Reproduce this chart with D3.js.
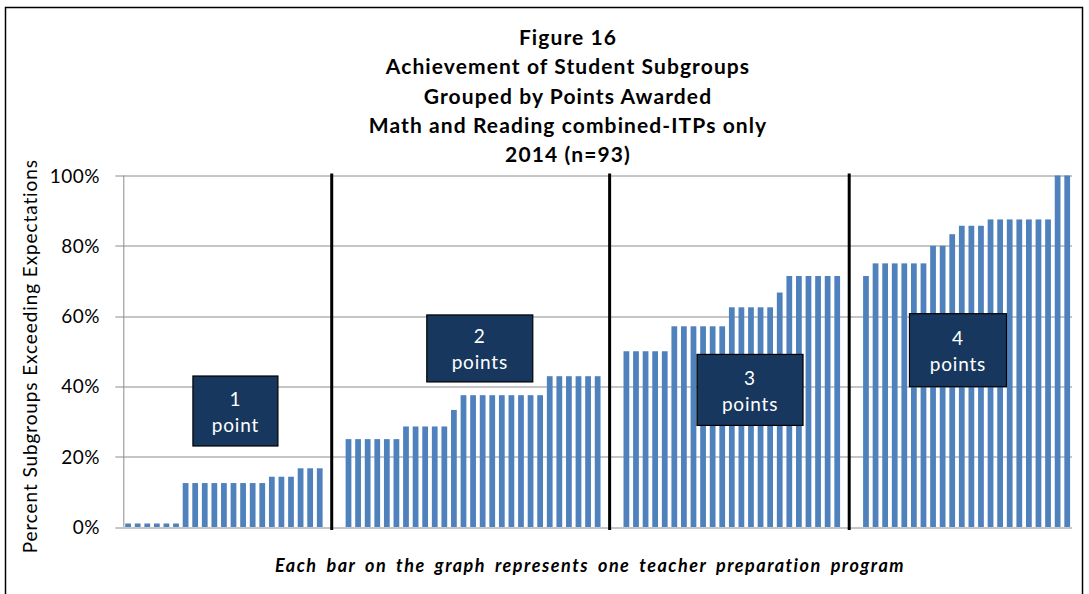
<html><head>
<title>Figure 16</title>
<script src="https://d3js.org/d3.v7.min.js"></script>
<style>
  body { margin: 0; background: #fff; }
  .grid line { stroke: #8c8c8c; stroke-width: 1px; }
  .tick-label { font-family: Lato, "Open Sans", sans-serif; font-size: 19px; letter-spacing: 0.5px; fill: #000; }
  .title { font-family: Lato, sans-serif; font-weight: 700; font-size: 21px; letter-spacing: 1.1px; fill: #000; }
  .box-text { font-family: Lato, sans-serif; font-size: 19px; letter-spacing: 0.8px; fill: #fff; }
</style>
</head>
<body>
<svg id="chart" width="1089" height="594"></svg>

<script>
// values (% of subgroups exceeding expectations), one list per points group
const onePoint = [1, 1, 1, 1, 1, 1, 12.5, 12.5, 12.5, 12.5, 12.5, 12.5, 12.5, 12.5, 12.5,
                  14.3, 14.3, 14.3, 16.7, 16.7, 16.7];
const twoPoints = [25, 25, 25, 25, 25, 25, 28.6, 28.6, 28.6, 28.6, 28.6, 33.3,
                   37.5, 37.5, 37.5, 37.5, 37.5, 37.5, 37.5, 37.5, 37.5,
                   42.9, 42.9, 42.9, 42.9, 42.9, 42.9];
const threePoints = [50, 50, 50, 50, 50, 57.1, 57.1, 57.1, 57.1, 57.1, 57.1,
                     62.5, 62.5, 62.5, 62.5, 62.5, 66.7,
                     71.4, 71.4, 71.4, 71.4, 71.4, 71.4];
const fourPoints = [71.4, 75, 75, 75, 75, 75, 75, 80, 80, 83.3, 85.7, 85.7, 85.7,
                    87.5, 87.5, 87.5, 87.5, 87.5, 87.5, 87.5, 100, 100];
const groupNames = [["1", "point"], ["2", "points"], ["3", "points"], ["4", "points"]];
const yTicks = [0, 20, 40, 60, 80, 100];
const titleLines = ["Figure 16", "Achievement of Student Subgroups", "Grouped by Points Awarded",
                    "Math and Reading combined-ITPs only", "2014  (n=93)"];
const yTitle = "Percent Subgroups Exceeding Expectations";
const caption = "Each bar on the graph represents one teacher preparation program";

const svg = d3.select("#chart");
const width = +svg.attr("width");
const height = +svg.attr("height");
const margin = { top: 175.5, right: 17, bottom: 67, left: 123.3 };
const plotW = width - margin.left - margin.right;
const plotH = height - margin.top - margin.bottom;

// outer frame
svg.append("rect")
   .attr("x", 5.5).attr("y", 7.5)
   .attr("width", 1077).attr("height", 600)
   .attr("fill", "#fff").attr("stroke", "#000").attr("stroke-width", 1.5);

// build category slots: groups separated by two empty slots
const groups = [onePoint, twoPoints, threePoints, fourPoints];
const gapSlots = 2;
const bars = [];
const gapStarts = [];
let slot = 0;
groups.forEach((g, gi) => {
  g.forEach(v => { bars.push({ slot: slot, value: v }); slot++; });
  if (gi < groups.length - 1) { gapStarts.push(slot); slot += gapSlots; }
});
const nSlots = slot;

// paddingOuter = paddingInner/2 keeps each bar centred in its slot
const x = d3.scaleBand().domain(d3.range(nSlots)).range([0, plotW]).paddingInner(0.4).paddingOuter(0.2);
const y = d3.scaleLinear().domain([0, 100]).range([plotH, 0]);
const slotX = d3.scaleLinear().domain([0, nSlots]).range([0, plotW]);

const plot = svg.append("g").attr("transform", "translate(" + margin.left + "," + margin.top + ")");

// gridlines + tick marks
const grid = plot.append("g").attr("class", "grid");
grid.selectAll("line.h").data(yTicks)
  .join("line").attr("class", "h")
  .attr("x1", -8).attr("x2", plotW)
  .attr("y1", d => Math.round(y(d)) + 0.5).attr("y2", d => Math.round(y(d)) + 0.5);
grid.append("line")
  .attr("x1", 0.5).attr("x2", 0.5)
  .attr("y1", y(100)).attr("y2", y(0));

plot.selectAll("text.tick-label").data(yTicks)
  .join("text").attr("class", "tick-label")
  .attr("x", 100 - margin.left)
  .attr("y", d => y(d) + 7)
  .attr("text-anchor", "end")
  .text(d => d + "%");

// bars
plot.selectAll("rect.bar").data(bars)
  .join("rect").attr("class", "bar")
  .attr("x", d => x(d.slot))
  .attr("width", x.bandwidth())
  .attr("y", d => y(d.value))
  .attr("height", d => y(0) - y(d.value))
  .attr("fill", "#4f81bd");

// group dividers (hand-drawn lines in the gaps, a bit right of the first empty slot's centre)
plot.selectAll("line.divider").data(gapStarts)
  .join("line").attr("class", "divider")
  .attr("x1", d => slotX(d + 0.75)).attr("x2", d => slotX(d + 0.75))
  .attr("y1", y(100) - 2).attr("y2", y(0) + 3)
  .attr("stroke", "#000").attr("stroke-width", 3);

// label boxes, placed in slot / value units
const boxes = [
  { cx: 11.7, cy: 33.0, w: 85, h: 70 },
  { cx: 37.2, cy: 50.8, w: 106, h: 67 },
  { cx: 65.4, cy: 39.0, w: 106, h: 71 },
  { cx: 87.1, cy: 50.3, w: 97, h: 73 }
];
const boxG = plot.selectAll("g.box").data(boxes)
  .join("g").attr("class", "box")
  .attr("transform", d => "translate(" + slotX(d.cx) + "," + y(d.cy) + ")");
boxG.append("rect")
  .attr("x", d => -d.w / 2).attr("y", d => -d.h / 2)
  .attr("width", d => d.w).attr("height", d => d.h)
  .attr("fill", "#17375e").attr("stroke", "#000").attr("stroke-width", 1.2);
boxG.append("text").attr("class", "box-text")
  .attr("text-anchor", "middle").attr("y", -5)
  .text((d, i) => groupNames[i][0]);
boxG.append("text").attr("class", "box-text")
  .attr("text-anchor", "middle").attr("y", 21)
  .text((d, i) => groupNames[i][1]);

// title
svg.selectAll("text.title").data(titleLines)
  .join("text").attr("class", "title")
  .attr("x", 568).attr("y", (d, i) => 45 + i * 29.3)
  .attr("text-anchor", "middle")
  .text(d => d);

// y axis title
svg.append("text")
  .attr("transform", "translate(37," + (margin.top + plotH / 2 + 5) + ") rotate(-90)")
  .attr("text-anchor", "middle")
  .attr("font-family", "Lato, sans-serif").attr("font-size", 19)
  .attr("letter-spacing", 0.9)
  .text(yTitle);

// caption
svg.append("text")
  .attr("x", 590).attr("y", 572)
  .attr("text-anchor", "middle")
  .attr("font-family", "Lato, sans-serif").attr("font-size", 18)
  .attr("font-weight", 700).attr("font-style", "italic")
  .attr("letter-spacing", 1.5).attr("word-spacing", 3.5)
  .text(caption);
</script>
</body>
</html>
